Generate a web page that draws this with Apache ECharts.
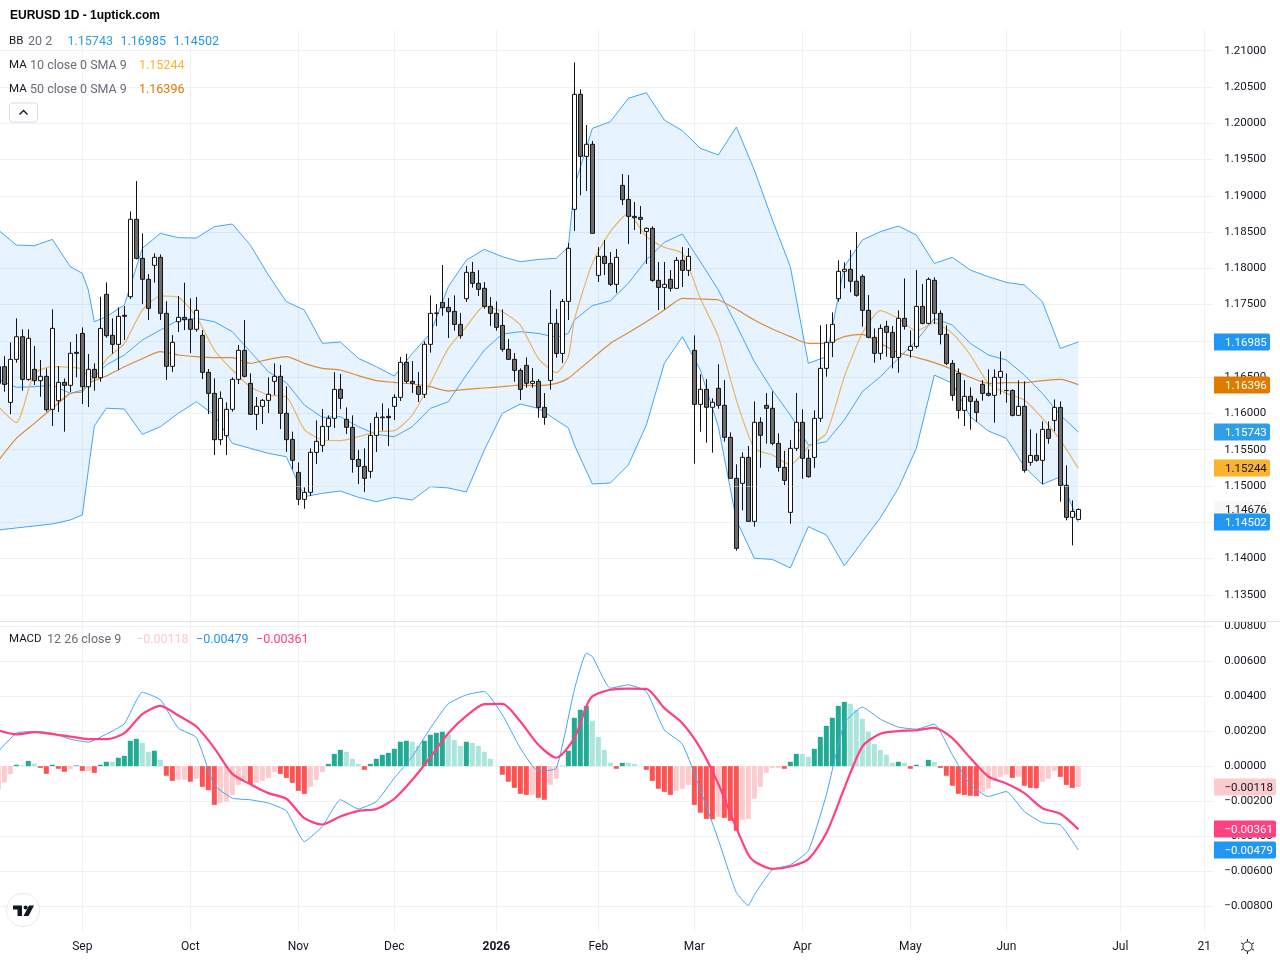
<!DOCTYPE html>
<html>
<head>
<meta charset="utf-8">
<title>EURUSD 1D</title>
<script src="https://cdn.jsdelivr.net/npm/echarts@6/dist/echarts.min.js"></script>
<style>html,body{margin:0;padding:0;background:#fff}#chart{width:1280px;height:960px}</style>
</head>
<body>
<div id="chart"></div>
<script>
// Daily EURUSD candles, one entry per bar
const opens = [
1.16644,1.16644,1.16152,1.16745,1.17057,1.16469,1.16607,1.16451,1.16511,1.16056,
1.16175,1.16428,1.16387,1.16842,1.17103,1.16368,1.16607,1.16492,1.17641,1.17076,
1.16952,1.17352,1.17609,1.18675,1.18137,1.17848,1.18041,1.18151,1.17379,1.16649,
1.17264,1.17324,1.17296,1.17159,1.17076,1.16566,1.16276,1.15638,1.15693,1.16056,
1.16469,1.16869,1.16414,1.15987,1.16097,1.16180,1.16442,1.16511,1.16001,1.15642,
1.15187,1.14815,1.14912,1.15463,1.15559,1.15821,1.15932,1.16331,1.15918,1.15808,
1.15366,1.15270,1.15201,1.15697,1.15941,1.15959,1.16097,1.16221,1.16704,1.16442,
1.16373,1.16263,1.16952,1.17379,1.17531,1.17462,1.17407,1.17227,1.17581,1.17944,
1.17793,1.17724,1.17475,1.17379,1.17213,1.16883,1.16745,1.16593,1.16662,1.16414,
1.16442,1.16083,1.16455,1.17241,1.16827,1.17544,1.18813,1.20398,1.19543,1.19709,
1.17903,1.18165,1.18068,1.17779,1.19143,1.18950,1.18716,1.18702,1.18509,1.18551,
1.17834,1.17737,1.17848,1.17724,1.18110,1.17972,1.16869,1.16125,1.16332,1.16084,
1.16346,1.16111,1.15670,1.15105,1.15036,1.15394,1.14512,1.15877,1.16111,1.16070,
1.15587,1.15256,1.14636,1.15518,1.15877,1.15381,1.15394,1.15932,1.16621,1.16980,
1.17582,1.17958,1.17986,1.17821,1.17889,1.17421,1.17048,1.16828,1.17200,1.17117,
1.16772,1.17310,1.16869,1.16924,1.17475,1.17241,1.17834,1.17379,1.17089,1.16690,
1.16552,1.16042,1.16235,1.16166,1.16400,1.16276,1.16249,1.16497,1.16315,1.16317,
1.15973,1.16097,1.15325,1.15421,1.15353,1.15780,1.15904,1.16083,1.15008,1.14567,
1.14539];
const closes = [
1.16414,1.16400,1.16745,1.17057,1.16469,1.17035,1.16451,1.16511,1.16051,1.17172,
1.16428,1.16387,1.16828,1.16828,1.16368,1.16607,1.16492,1.17172,1.17071,1.16952,
1.17338,1.17338,1.18675,1.18137,1.17848,1.17448,1.18151,1.17379,1.16649,1.16979,
1.17324,1.17292,1.17159,1.17420,1.16566,1.16276,1.15638,1.16207,1.16056,1.16469,
1.16869,1.16511,1.15987,1.16097,1.16180,1.16263,1.16511,1.16001,1.15638,1.15353,
1.14815,1.14912,1.15463,1.15615,1.15821,1.15932,1.16331,1.16207,1.15808,1.15366,
1.15270,1.15105,1.15697,1.15945,1.15950,1.15941,1.16221,1.16704,1.16442,1.16414,
1.16263,1.16952,1.17379,1.17384,1.17457,1.17402,1.17227,1.17071,1.17944,1.17793,
1.17710,1.17475,1.17379,1.17186,1.16883,1.16745,1.16593,1.16331,1.16414,1.16442,
1.16083,1.15945,1.17241,1.16827,1.17544,1.18275,1.20398,1.19543,1.19709,1.18482,
1.18165,1.18068,1.17779,1.18151,1.18946,1.18716,1.18698,1.18675,1.18551,1.17834,
1.17737,1.17779,1.17724,1.18110,1.17972,1.18165,1.16125,1.16332,1.16084,1.16153,
1.16111,1.15670,1.15105,1.14140,1.15394,1.14512,1.15877,1.15698,1.16070,1.15587,
1.15256,1.15077,1.15518,1.15877,1.15381,1.15128,1.15932,1.16621,1.16980,1.17228,
1.17958,1.17986,1.17821,1.17627,1.17421,1.17049,1.16828,1.17172,1.17117,1.16772,
1.17310,1.17200,1.16924,1.17475,1.17241,1.17848,1.17379,1.17089,1.16690,1.16249,
1.16042,1.16235,1.16166,1.16014,1.16276,1.16249,1.16497,1.16579,1.16317,1.15973,
1.16097,1.15215,1.15421,1.15353,1.15780,1.15656,1.16083,1.15008,1.14567,1.14649,
1.14676];
const lows = [
1.16322,1.16299,1.15991,1.16699,1.16313,1.16451,1.16391,1.16230,1.16024,1.15826,
1.16019,1.15748,1.16295,1.16497,1.16129,1.16088,1.16313,1.16437,1.17044,1.16823,
1.16598,1.17012,1.17577,1.18124,1.17508,1.17287,1.17802,1.17287,1.16460,1.16570,
1.17122,1.17149,1.16832,1.17126,1.16474,1.15991,1.15426,1.15564,1.15426,1.16024,
1.16405,1.16497,1.15978,1.15771,1.15854,1.16005,1.16253,1.15785,1.15468,1.15229,
1.14737,1.14686,1.14861,1.15302,1.15468,1.15633,1.15798,1.16060,1.15716,1.15183,
1.15026,1.14916,1.15109,1.15468,1.15762,1.15550,1.15909,1.16171,1.16414,1.16281,
1.16157,1.16212,1.16837,1.17204,1.17347,1.17039,1.17140,1.17030,1.17535,1.17733,
1.17618,1.17443,1.17204,1.17140,1.16851,1.16736,1.16437,1.16184,1.16354,1.16354,
1.15941,1.15844,1.16327,1.16768,1.16694,1.17287,1.18514,1.19007,1.19065,1.18482,
1.17811,1.17907,1.17756,1.17659,1.18872,1.18335,1.18528,1.18473,1.18059,1.17815,
1.17425,1.17434,1.17678,1.17719,1.17742,1.17894,1.15307,1.15748,1.15596,1.15459,
1.16065,1.15610,1.15105,1.14108,1.14664,1.14508,1.14439,1.15252,1.15583,1.15560,
1.15197,1.15013,1.14480,1.15482,1.15100,1.15114,1.15247,1.15881,1.16506,1.16777,
1.17540,1.17724,1.17669,1.17609,1.17196,1.17035,1.16699,1.16740,1.16782,1.16621,
1.16561,1.17154,1.16768,1.16896,1.17227,1.17227,1.17232,1.16952,1.16667,1.16175,
1.15927,1.15826,1.15775,1.15881,1.16175,1.16235,1.15872,1.16262,1.16147,1.15959,
1.15968,1.15183,1.15279,1.15334,1.15026,1.15582,1.15752,1.14783,1.14526,1.14181,
1.14530];
const highs = [
1.16713,1.16791,1.16979,1.17310,1.17159,1.17159,1.16929,1.16736,1.16621,1.17434,
1.16653,1.16483,1.16984,1.17094,1.17186,1.16819,1.16690,1.17609,1.17806,1.17310,
1.17462,1.17480,1.18785,1.19203,1.18482,1.17921,1.18206,1.18192,1.17545,1.17080,
1.17618,1.17802,1.17586,1.17604,1.17149,1.16612,1.16483,1.16304,1.16152,1.16497,
1.16943,1.17287,1.16552,1.16226,1.16198,1.16497,1.16690,1.16667,1.16373,1.15748,
1.15325,1.14980,1.15518,1.15904,1.16060,1.15973,1.16570,1.16543,1.16083,1.15973,
1.15495,1.15518,1.15867,1.16014,1.16138,1.16069,1.16263,1.16777,1.16819,1.16722,
1.16570,1.16993,1.17627,1.17508,1.18045,1.17590,1.17627,1.17384,1.18031,1.18087,
1.17976,1.17811,1.17604,1.17544,1.17434,1.17025,1.16832,1.16621,1.16772,1.16625,
1.16474,1.16281,1.17701,1.17439,1.17577,1.18348,1.20839,1.20467,1.19975,1.19755,
1.18293,1.18390,1.18224,1.18266,1.19300,1.19286,1.18914,1.18859,1.18565,1.18578,
1.18087,1.18087,1.17976,1.18156,1.18293,1.18280,1.17076,1.16538,1.16474,1.16208,
1.16676,1.16460,1.15739,1.15298,1.15463,1.15551,1.16166,1.15946,1.16281,1.16304,
1.15725,1.15482,1.15633,1.16281,1.16056,1.15505,1.16042,1.17214,1.17228,1.17393,
1.18110,1.18082,1.18253,1.18501,1.17917,1.17632,1.17172,1.17227,1.17278,1.17204,
1.17420,1.17861,1.17145,1.17976,1.17783,1.17875,1.17875,1.17420,1.17214,1.16736,
1.16621,1.16460,1.16359,1.16207,1.16460,1.16607,1.16607,1.16855,1.16552,1.16331,
1.16455,1.16442,1.15780,1.15725,1.15890,1.15890,1.16193,1.16166,1.15284,1.14801,
1.14690];

// Bars at which the price overlays below are sampled
const overlayBars = [0,3,6,9,12,14,15,16,18,21,24,27,30,33,36,39,42,45,48,51,54,57,60,63,66,69,72,75,78,81,84,87,90,93,95,96,99,102,105,108,111,114,117,120,123,126,129,132,135,138,141,144,147,150,153,156,159,162,165,168,171,174,177,180];
const bbUpper = [1.18528,1.18321,1.18312,1.18399,1.18022,1.17931,1.17701,1.17264,1.17333,1.17494,1.18275,1.18482,1.18422,1.18418,1.18574,1.18611,1.18321,1.17908,1.17540,1.17425,1.16966,1.16984,1.16759,1.16644,1.16515,1.16828,1.17103,1.17747,1.18114,1.18261,1.18160,1.18091,1.18123,1.18137,1.18298,1.19125,1.19929,1.20021,1.20343,1.20421,1.20044,1.19897,1.19654,1.19562,1.19948,1.19355,1.18667,1.18023,1.16690,1.16782,1.18023,1.18390,1.18505,1.18583,1.18459,1.18068,1.18151,1.17976,1.17884,1.17806,1.17770,1.17540,1.16896,1.16985];
const bbMiddle = [1.16469,1.16359,1.16368,1.16391,1.16276,1.16322,1.16414,1.16506,1.16667,1.16805,1.17012,1.17149,1.17287,1.17310,1.17264,1.17126,1.16851,1.16575,1.16423,1.16115,1.15945,1.15955,1.15817,1.15711,1.15679,1.15817,1.16069,1.16161,1.16529,1.16874,1.17094,1.17126,1.17103,1.17048,1.17103,1.17287,1.17485,1.17553,1.17793,1.18114,1.18358,1.18473,1.18092,1.17701,1.17219,1.16713,1.16323,1.15978,1.15564,1.15610,1.15909,1.16300,1.16506,1.16759,1.17002,1.17310,1.17218,1.16965,1.16805,1.16736,1.16529,1.16276,1.15977,1.15743];
const bbLower = [1.14393,1.14421,1.14448,1.14476,1.14531,1.14601,1.15220,1.15827,1.16071,1.16061,1.15711,1.15817,1.16001,1.16161,1.15978,1.15587,1.15518,1.15449,1.15403,1.14852,1.14898,1.14930,1.14843,1.14783,1.14843,1.14806,1.14990,1.14972,1.14917,1.15495,1.16000,1.16129,1.16069,1.15908,1.15800,1.15566,1.15027,1.15041,1.15289,1.15840,1.16690,1.17057,1.16598,1.15817,1.14530,1.14002,1.13988,1.13869,1.14439,1.14324,1.13899,1.14232,1.14562,1.14967,1.15518,1.16529,1.16414,1.15955,1.15757,1.15656,1.15265,1.15022,1.15127,1.14502];
const ma10 = [1.16093,1.15872,1.16552,1.16644,1.16635,1.16612,1.16506,1.16506,1.16745,1.16966,1.17425,1.17618,1.17600,1.17333,1.16874,1.16598,1.16368,1.16253,1.16230,1.15780,1.15633,1.15624,1.15679,1.15748,1.15762,1.15978,1.16414,1.16896,1.17195,1.17480,1.17402,1.17218,1.16759,1.16561,1.16782,1.17287,1.18068,1.18505,1.18757,1.18436,1.18289,1.18206,1.17586,1.17058,1.16185,1.15518,1.15426,1.15289,1.15541,1.15725,1.16506,1.17104,1.17416,1.17310,1.17135,1.17250,1.17103,1.16805,1.16414,1.16276,1.16184,1.15932,1.15633,1.15244];
const ma50 = [1.15348,1.15656,1.15863,1.16070,1.16276,1.16299,1.16414,1.16451,1.16515,1.16644,1.16754,1.16851,1.16805,1.16782,1.16768,1.16768,1.16690,1.16745,1.16782,1.16690,1.16621,1.16598,1.16520,1.16451,1.16428,1.16405,1.16368,1.16308,1.16331,1.16350,1.16368,1.16391,1.16382,1.16414,1.16483,1.16552,1.16759,1.16965,1.17112,1.17264,1.17425,1.17586,1.17577,1.17563,1.17435,1.17288,1.17163,1.17058,1.16966,1.16966,1.17058,1.17090,1.16965,1.16837,1.16772,1.16699,1.16607,1.16497,1.16414,1.16423,1.16423,1.16451,1.16469,1.16396];

// MACD panel: histogram per bar, lines sampled at macdBars
const macdHist = [
-0.00135,-0.00093,-0.00044,0.00008,0.00004,0.00030,0.00015,-0.00010,-0.00044,0.00008,
-0.00015,-0.00032,-0.00015,0.00004,-0.00027,-0.00027,-0.00038,0.00008,0.00025,0.00025,
0.00048,0.00059,0.00145,0.00156,0.00133,0.00082,0.00088,0.00036,-0.00055,-0.00084,
-0.00078,-0.00078,-0.00089,-0.00072,-0.00118,-0.00137,-0.00221,-0.00209,-0.00202,-0.00164,
-0.00107,-0.00078,-0.00103,-0.00095,-0.00084,-0.00067,-0.00034,-0.00044,-0.00067,-0.00095,
-0.00141,-0.00158,-0.00118,-0.00078,-0.00034,0.00013,0.00070,0.00093,0.00082,0.00042,
0.00013,-0.00021,0.00013,0.00042,0.00065,0.00076,0.00099,0.00139,0.00145,0.00139,
0.00116,0.00145,0.00179,0.00190,0.00196,0.00179,0.00150,0.00116,0.00139,0.00133,
0.00116,0.00082,0.00042,0.00002,-0.00049,-0.00089,-0.00124,-0.00158,-0.00164,-0.00164,
-0.00181,-0.00192,-0.00107,-0.00072,0.00002,0.00088,0.00276,0.00322,0.00344,0.00259,
0.00167,0.00093,0.00019,-0.00015,0.00019,0.00019,0.00013,0.00002,-0.00021,-0.00084,
-0.00129,-0.00147,-0.00164,-0.00141,-0.00129,-0.00107,-0.00221,-0.00266,-0.00301,-0.00303,
-0.00289,-0.00295,-0.00312,-0.00369,-0.00306,-0.00301,-0.00186,-0.00118,-0.00038,-0.00010,
-0.00010,-0.00015,0.00025,0.00070,0.00070,0.00053,0.00099,0.00167,0.00230,0.00276,
0.00344,0.00367,0.00356,0.00322,0.00270,0.00196,0.00127,0.00093,0.00065,0.00019,
0.00025,0.00019,-0.00015,0.00008,0.00002,0.00036,0.00025,-0.00010,-0.00055,-0.00112,
-0.00158,-0.00164,-0.00169,-0.00171,-0.00147,-0.00129,-0.00084,-0.00061,-0.00049,-0.00067,
-0.00061,-0.00112,-0.00124,-0.00126,-0.00089,-0.00072,-0.00027,-0.00061,-0.00107,-0.00124,
-0.00118];
const macdBars = [0,3,6,9,12,15,18,21,24,27,30,33,36,39,42,45,48,51,54,57,60,63,66,69,72,75,78,81,84,87,90,93,96,98,99,102,105,108,111,114,117,120,123,125,126,129,132,135,138,141,144,147,150,153,156,159,162,165,168,171,174,177,180];
const macdLine = [0.00084,0.00188,0.00198,0.00188,0.00154,0.00137,0.00183,0.00242,0.00422,0.00379,0.00217,0.00164,-0.00107,-0.00183,-0.00192,-0.00211,-0.00255,-0.00430,-0.00344,-0.00192,-0.00244,-0.00202,-0.00068,0.00055,0.00217,0.00356,0.00407,0.00426,0.00293,0.00103,-0.00030,-0.00011,0.00436,0.00645,0.00626,0.00445,0.00464,0.00426,0.00207,0.00126,-0.00135,-0.00420,-0.00721,-0.00795,-0.00734,-0.00592,-0.00563,-0.00483,-0.00164,0.00245,0.00337,0.00268,0.00223,0.00211,0.00240,0.00065,-0.00107,-0.00173,-0.00145,-0.00259,-0.00322,-0.00335,-0.00479];
const signalLine = [0.00204,0.00181,0.00194,0.00183,0.00169,0.00154,0.00154,0.00188,0.00297,0.00344,0.00289,0.00226,0.00103,-0.00044,-0.00103,-0.00154,-0.00186,-0.00297,-0.00333,-0.00287,-0.00255,-0.00245,-0.00186,-0.00078,0.00051,0.00188,0.00287,0.00354,0.00356,0.00255,0.00122,0.00048,0.00160,0.00341,0.00398,0.00436,0.00443,0.00441,0.00331,0.00245,0.00103,-0.00101,-0.00354,-0.00506,-0.00544,-0.00586,-0.00573,-0.00531,-0.00382,-0.00126,0.00112,0.00185,0.00200,0.00205,0.00219,0.00160,0.00046,-0.00059,-0.00099,-0.00154,-0.00240,-0.00272,-0.00361];

// Time axis labels and the bars they sit on
const timeTickBars = [14,32,50,66,83,100,116,134,152,168,187,201];
const timeTickNames = ['Sep','Oct','Nov','Dec','2026','Feb','Mar','Apr','May','Jun','Jul','21'];
const slotCount = 203;

// Last values shown in the legend and on the scale tags
const lastBB = ['1.15743','1.16985','1.14502'];
const lastMA10 = '1.15244';
const lastMA50 = '1.16396';
const lastClose = 1.14676;
const lastMacd = ['\u22120.00118','\u22120.00479','\u22120.00361'];

const UI_FONT = 'Roboto, sans-serif';
const TEXT = '#131722';
const MUTED = '#6a6d78';
const GRID = '#f0f1f5';
const BB_BLUE = '#42a5f5';

const categories = Array.from({length: slotCount}, (_, i) => {
  const at = timeTickBars.indexOf(i);
  return at >= 0 ? timeTickNames[at] : '';
});
const isTick = (i, v) => v !== '';
const pairs = (bars, vals) => bars.map((b, i) => [b, vals[i]]);

const chart = echarts.init(document.getElementById('chart'), null, {renderer: 'canvas'});

const plotLeft = -4.67, plotWidth = 1218;

function overlay(name, vals, color, width, opts) {
  return Object.assign({
    name, type: 'line', xAxisIndex: 0, yAxisIndex: 0, data: pairs(overlayBars, vals),
    showSymbol: false, symbol: 'none', silent: true, z: 3,
    lineStyle: {color, width}
  }, opts || {});
}

// Histogram shade depends on sign and on whether the bar grew against the previous one
function histColor(i) {
  const v = macdHist[i];
  const prev = i > 0 ? macdHist[i - 1] : -1;
  if (v >= 0) return v > prev ? '#22ab94' : '#ace5dc';
  return v < prev ? '#ff5252' : '#fccbcd';
}

chart.setOption({
  animation: false,
  backgroundColor: '#ffffff',
  grid: [
    {left: plotLeft, width: plotWidth, top: 50.67, height: 544.1, outerBoundsMode: 'none'},
    {left: plotLeft, width: plotWidth, top: 626, height: 280.3, outerBoundsMode: 'none'},
    {left: plotLeft, width: plotWidth, top: 30, height: 902, outerBoundsMode: 'none'}
  ],
  xAxis: [
    {type: 'category', gridIndex: 0, data: categories, show: false},
    {type: 'category', gridIndex: 1, data: categories, show: false},
    {type: 'category', gridIndex: 2, data: categories,
      axisLine: {show: false}, axisTick: {show: false},
      axisLabel: {
        interval: isTick, color: TEXT, fontFamily: UI_FONT, fontSize: 12, margin: 9,
        formatter: v => v === '2026' ? '{y|2026}' : v,
        rich: {y: {fontWeight: 'bold', fontFamily: UI_FONT, fontSize: 12, color: TEXT}}
      },
      splitLine: {show: true, interval: isTick, alignWithLabel: true, lineStyle: {color: GRID, width: 1}}
    }
  ],
  yAxis: [
    {type: 'value', gridIndex: 0, position: 'right', min: 1.135, max: 1.21, interval: 0.005, scale: true,
      axisLine: {show: false}, axisTick: {show: false},
      axisLabel: {color: TEXT, fontFamily: UI_FONT, fontSize: 11.5, margin: 11, formatter: v => v.toFixed(5)},
      splitLine: {show: true, lineStyle: {color: GRID, width: 1}}},
    {type: 'value', gridIndex: 1, position: 'right', min: -0.008, max: 0.008, interval: 0.002,
      axisLine: {show: false}, axisTick: {show: false},
      axisLabel: {color: TEXT, fontFamily: UI_FONT, fontSize: 11.5, margin: 11,
        formatter: v => (v < -1e-9 ? '\u2212' : '') + Math.abs(v).toFixed(5)},
      splitLine: {show: true, lineStyle: {color: GRID, width: 1}}},
    {type: 'value', gridIndex: 2, show: false, min: 0, max: 1}
  ],
  series: [
    // Shaded Bollinger channel between the upper and lower bands
    {
      name: 'BB channel', type: 'custom', xAxisIndex: 0, yAxisIndex: 0, data: [[0, bbUpper[0]]],
      silent: true, z: 1, clip: false,
      encode: {x: 0, y: 1},
      renderItem(params, api) {
        const top = overlayBars.map((b, i) => api.coord([b, bbUpper[i]]));
        const bottom = overlayBars.map((b, i) => api.coord([b, bbLower[i]])).reverse();
        return {type: 'polygon', shape: {points: top.concat(bottom)},
          style: {fill: 'rgba(33,150,243,0.11)', stroke: null}};
      }
    },
    overlay('BB upper', bbUpper, BB_BLUE, 1),
    overlay('BB lower', bbLower, BB_BLUE, 1),
    overlay('BB basis', bbMiddle, BB_BLUE, 1),
    overlay('MA 10', ma10, '#eab665', 1.2, {smooth: 0.2}),
    overlay('MA 50', ma50, '#dc8b3c', 1.2, {smooth: 0.2}),
    {
      name: 'EURUSD', type: 'candlestick', xAxisIndex: 0, yAxisIndex: 0, z: 5, barWidth: 4, silent: true,
      data: opens.map((o, i) => [o, closes[i], lows[i], highs[i]]),
      itemStyle: {color: '#ffffff', color0: '#6b6b6b', borderColor: '#141414', borderColor0: '#141414', borderWidth: 1},
      markLine: {
        silent: true, symbol: 'none', label: {show: false}, animation: false, z: 6,
        lineStyle: {type: 'dotted', color: '#f1f1f1', width: 1},
        data: [{yAxis: lastClose}]
      }
    },
    {
      name: 'Histogram', type: 'bar', xAxisIndex: 1, yAxisIndex: 1, barWidth: 5, silent: true, z: 2,
      data: macdHist.map((v, i) => ({value: v, itemStyle: {color: histColor(i)}}))
    },
    {name: 'MACD', type: 'line', xAxisIndex: 1, yAxisIndex: 1, data: pairs(macdBars, macdLine), showSymbol: false,
      symbol: 'none', silent: true, z: 3, smooth: 0.15, lineStyle: {color: BB_BLUE, width: 1}},
    {name: 'Signal', type: 'line', xAxisIndex: 1, yAxisIndex: 1, data: pairs(macdBars, signalLine), showSymbol: false,
      symbol: 'none', silent: true, z: 4, smooth: 0.25, lineStyle: {color: '#ff4081', width: 2.2}}
  ]
});

// Scale tags sit beside the axis at the pixel the axis gives for each value
function tag(value, axisIndex, text, bg, fg, width) {
  const y = Math.round(chart.convertToPixel({yAxisIndex: axisIndex}, value));
  return {
    type: 'group', z: 100, children: [
      {type: 'rect', z: 100, shape: {x: 1214, y: y - 8.5, width, height: 17, r: [0, 2, 2, 0]}, style: {fill: bg}},
      {type: 'text', z: 101, style: {x: axisIndex ? 1224.5 : 1225, y: y + 1.5, text, fill: fg, font: '11.5px ' + UI_FONT, verticalAlign: 'middle', align: 'left'}}
    ]
  };
}
function label(x, y, text, fill, font) {
  return {type: 'text', z: 50, style: {x, y, text, fill, font: font || ('12.5px ' + UI_FONT), verticalAlign: 'middle', align: 'left'}};
}
const KEY_FONT = '11.5px ' + UI_FONT;

const graphics = [
  // Strip that clips the top of the lower pane's first scale label
  {type: 'rect', z: 90, shape: {x: 1214, y: 606, width: 66, height: 15.5}, style: {fill: '#ffffff'}},
  {type: 'rect', z: 40, shape: {x: 0, y: 0, width: 1280, height: 30}, style: {fill: '#ffffff'}},
  {type: 'line', z: 91, shape: {x1: 0, y1: 621.5, x2: 1280, y2: 621.5}, style: {stroke: '#e0e3eb', lineWidth: 1}},

  label(10, 16, 'EURUSD 1D - 1uptick.com', '#000000', 'bold 12px "Liberation Sans", Arial, sans-serif'),
  label(9, 41.5, 'BB', TEXT, KEY_FONT), label(28, 41.5, '20 2', MUTED),
  label(67.5, 41.5, lastBB[0], '#2e9fe6'), label(120.5, 41.5, lastBB[1], '#2196f3'), label(173.5, 41.5, lastBB[2], '#2196f3'),
  label(9, 65.5, 'MA', TEXT, KEY_FONT), label(30, 65.5, '10 close 0 SMA 9', MUTED), label(139, 65.5, lastMA10, '#f9b32c'),
  label(9, 89.5, 'MA', TEXT, KEY_FONT), label(30, 89.5, '50 close 0 SMA 9', MUTED), label(139, 89.5, lastMA50, '#e07b00'),
  label(9, 639.5, 'MACD', TEXT, KEY_FONT), label(47, 639.5, '12 26 close 9', MUTED),
  label(136, 639.5, lastMacd[0], '#fccbcd'), label(196, 639.5, lastMacd[1], '#2196f3'), label(256, 639.5, lastMacd[2], '#ff4081'),

  // Collapse button under the legend
  {type: 'rect', z: 50, shape: {x: 9.5, y: 103, width: 28, height: 19, r: 3}, style: {fill: '#ffffff', stroke: '#d9dae6', lineWidth: 1}},
  {type: 'polyline', z: 51, shape: {points: [[19.5, 114.5], [23.5, 110.5], [27.5, 114.5]]}, style: {fill: null, stroke: TEXT, lineWidth: 1.4}},

  // Brand badge
  {type: 'circle', z: 50, shape: {cx: 23, cy: 910, r: 16.5}, style: {fill: '#ffffff', stroke: '#e9eaee', lineWidth: 1}},
  {type: 'polygon', z: 51, shape: {points: [[13, 905.5], [22, 905.5], [22, 916], [17.5, 916], [17.5, 909.5], [13, 909.5]]}, style: {fill: '#131722'}},
  {type: 'circle', z: 51, shape: {cx: 25.6, cy: 907.5, r: 2}, style: {fill: '#131722'}},
  {type: 'polygon', z: 51, shape: {points: [[29, 905.5], [34, 905.5], [28.5, 916], [23.5, 916]]}, style: {fill: '#131722'}},

  // Theme toggle in the bottom corner
  {type: 'circle', z: 50, shape: {cx: 1247.5, cy: 946.5, r: 4.6}, style: {fill: 'none', stroke: TEXT, lineWidth: 1}}
];
[[0, -7.5, 0, -5], [0, 5, 0, 7.5], [-6.5, -3.7, -4.4, -2.5], [6.5, -3.7, 4.4, -2.5], [-6.5, 3.7, -4.4, 2.5], [6.5, 3.7, 4.4, 2.5]].forEach(r => {
  graphics.push({type: 'line', z: 50, shape: {x1: 1247.5 + r[0], y1: 946.5 + r[1], x2: 1247.5 + r[2], y2: 946.5 + r[3]}, style: {stroke: TEXT, lineWidth: 1}});
});

graphics.push(
  tag(+lastBB[1], 0, lastBB[1], '#2196f3', '#ffffff', 56),
  tag(+lastMA50, 0, lastMA50, '#e07b00', '#ffffff', 56),
  tag(+lastBB[0], 0, lastBB[0], '#2e9fe6', '#ffffff', 56),
  tag(+lastMA10, 0, lastMA10, '#f9b32c', TEXT, 56),
  tag(lastClose, 0, lastClose.toFixed(5), '#f7f7f7', TEXT, 56),
  tag(+lastBB[2], 0, lastBB[2], '#2196f3', '#ffffff', 56),
  tag(-0.00118, 1, lastMacd[0], '#fccbcd', TEXT, 62),
  tag(-0.00361, 1, lastMacd[2], '#ff4081', '#ffffff', 62),
  tag(-0.00479, 1, lastMacd[1], '#2196f3', '#ffffff', 62)
);
chart.setOption({graphic: graphics});
</script>
</body>
</html>
